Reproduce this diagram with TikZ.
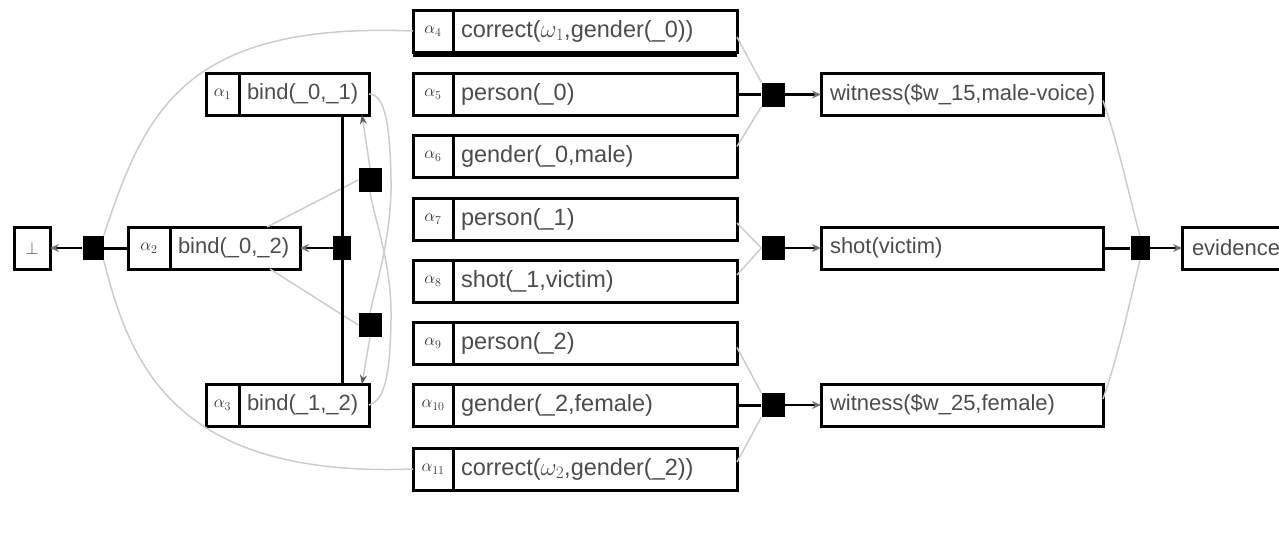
\documentclass[tikz,border=0pt]{standalone}
\usepackage{fontspec}
\setmainfont{Liberation Sans}
\usetikzlibrary{arrows.meta}
\newcommand{\mybx}[2]{\makebox[#1][l]{#2}}
\begin{document}
\begin{tikzpicture}[x=1pt,y=-1pt,
 box/.style={draw=black, line width=3pt, outer sep=0pt, minimum height=42pt, inner ysep=0pt, text=black!70, font=\fontsize{22}{26}\selectfont},
 lab/.style={box, inner xsep=0pt, anchor=west, text=black!80, font=\fontsize{18}{20}\selectfont},
 txt/.style={box, inner xsep=8pt, anchor=west},
 mid/.style={txt, font=\fontsize{23.5}{27}\selectfont},
 fac/.style={fill=black, inner sep=0pt, minimum width=23pt, minimum height=24pt},
 blk/.style={line width=3pt},
 gry/.style={line width=1.5pt, draw=black!20},
 arr/.style={line width=2.5pt, -{Stealth[length=9pt,width=8pt,color=black!55]}},
 garr/.style={gry, -{Stealth[length=9pt,width=7pt,color=black!65]}},
]
\useasboundingbox (0,0) rectangle (1279,549);
% bottom node and first factor
\node[box, minimum width=36pt, inner xsep=0pt, font=\fontsize{16}{18}\selectfont] (bot) at (32,248) {$\bot$};
\node[fac, minimum width=21pt] (F1) at (93,248) {};
% left boxes
\node[lab, minimum width=33pt] (a1l) at (206,94) {$\alpha_1$};
\node[txt] (a1) at (a1l.east) {\mybx{114pt}{bind(\_0,\_1)}};
\node[lab, minimum width=42pt] (a2l) at (128,248) {$\alpha_2$};
\node[txt] (a2) at (a2l.east) {\mybx{114pt}{bind(\_0,\_2)}};
\node[lab, minimum width=33pt] (a3l) at (206,405) {$\alpha_3$};
\node[txt] (a3) at (a3l.east) {\mybx{114pt}{bind(\_1,\_2)}};
\node[fac, minimum width=18pt] (F2) at (342,248) {};
\node[fac] (F3) at (370,180) {};
\node[fac] (F4) at (370,325) {};
% middle column
\node[lab, minimum width=40pt] (a4l) at (413,31) {$\alpha_4$};
\node[mid] (a4) at (a4l.east) {\mybx{268pt}{correct($\omega_1$,gender(\_0))}};
\node[lab, minimum width=40pt] (a5l) at (413,94.5) {$\alpha_5$};
\node[mid] (a5) at (a5l.east) {\mybx{268pt}{person(\_0)}};
\node[lab, minimum width=40pt] (a6l) at (413,156.5) {$\alpha_6$};
\node[mid] (a6) at (a6l.east) {\mybx{268pt}{gender(\_0,male)}};
\node[lab, minimum width=40pt] (a7l) at (413,219) {$\alpha_7$};
\node[mid] (a7) at (a7l.east) {\mybx{268pt}{person(\_1)}};
\node[lab, minimum width=40pt] (a8l) at (413,281) {$\alpha_8$};
\node[mid] (a8) at (a8l.east) {\mybx{268pt}{shot(\_1,victim)}};
\node[lab, minimum width=40pt] (a9l) at (413,343.5) {$\alpha_9$};
\node[mid] (a9) at (a9l.east) {\mybx{268pt}{person(\_2)}};
\node[lab, minimum width=40pt] (a10l) at (413,405) {$\alpha_{10}$};
\node[mid] (a10) at (a10l.east) {\mybx{268pt}{gender(\_2,female)}};
\node[lab, minimum width=40pt] (a11l) at (413,469) {$\alpha_{11}$};
\node[mid] (a11) at (a11l.east) {\mybx{268pt}{correct($\omega_2$,gender(\_2))}};
\draw[line width=4pt] ([yshift=-2.5pt]a4l.south west) -- ([yshift=-2.5pt]a4.south east);
% middle factors
\node[fac] (FA) at (773,94.5) {};
\node[fac] (FB) at (773,248) {};
\node[fac] (FC) at (773,405) {};
% right column
\node[txt, inner xsep=9pt] (w1) at (821,94.5) {\mybx{264pt}{witness(\$w\_15,male-voice)}};
\node[txt, inner xsep=9pt] (shot) at (821,248) {\mybx{264pt}{shot(victim)}};
\node[txt, inner xsep=9pt] (w2) at (821,405) {\mybx{264pt}{witness(\$w\_25,female)}};
\node[fac, minimum width=19pt] (FD) at (1140,248) {};
\node[txt, inner xsep=10pt] (evid) at (1182,248) {\mybx{110pt}{evidence}};
% grey connectors
\draw[gry] (F1.north east) .. controls (145,110) and (185,22) .. (a4l.west);
\draw[gry] (F1.south east) .. controls (130,365) and (175,478) .. (a11l.west);
\draw[garr] (F3.north) -- ([xshift=-7pt]a1.south east);
\draw[gry] (F3.west) -- ([xshift=-33pt]a2.north east);
\draw[gry] (F3.south) .. controls (376,225) and (392,265) .. (391,320) .. controls (390,375) and (385,400) .. (a3.east);
\draw[gry] (F4.north) .. controls (376,285) and (392,235) .. (391,180) .. controls (390,125) and (385,94) .. (a1.east);
\draw[garr] (F4.south) -- ([xshift=-7pt]a3.north east);
\draw[gry] (F4.west) -- ([xshift=-30pt]a2.south east);
\draw[gry] ([yshift=-6pt]a4.east) -- (FA.north west);
\draw[gry] ([yshift=10pt]a6.east) -- (FA.south west);
\draw[gry] ([yshift=-4pt]a7.east) -- (FB.west);
\draw[gry] ([yshift=6pt]a8.east) -- (FB.west);
\draw[gry] ([yshift=-4pt]a9.east) -- (FC.north west);
\draw[gry] ([yshift=7pt]a11.east) -- (FC.south west);
\draw[gry] ([yshift=-6pt]w1.east) .. controls (1120,150) and (1130,200) .. (FD.north);
\draw[gry] ([yshift=6pt]w2.east) .. controls (1120,350) and (1130,300) .. (FD.south);
% black connectors
\draw[arr] (F1.west) -- (bot.east);
\draw[blk] (F1.east) -- (a2l.west);
\draw[arr] (F2.west) -- (a2.east);
\draw[blk] (F2 |- a1.south) -- (F2 |- a3.north);
\draw[blk] (a5.east) -- (FA.west);
\draw[arr] (FA.east) -- (w1.west);
\draw[arr] (FB.east) -- (shot.west);
\draw[blk] (a10.east) -- (FC.west);
\draw[arr] (FC.east) -- (w2.west);
\draw[blk] (shot.east) -- (FD.west);
\draw[arr] (FD.east) -- (evid.west);
\end{tikzpicture}
\end{document}
